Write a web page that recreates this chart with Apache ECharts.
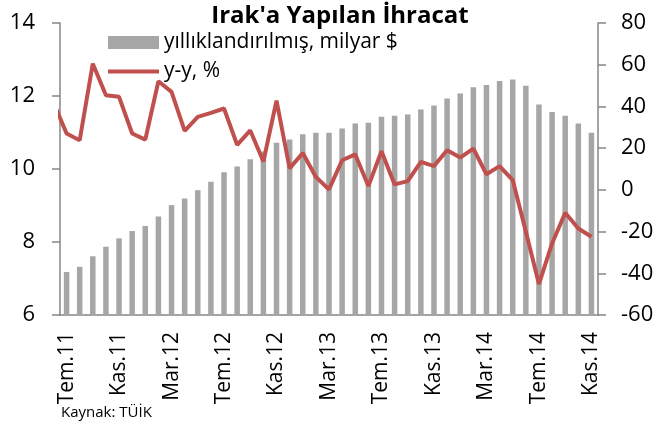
<!DOCTYPE html>
<html>
<head>
<meta charset="utf-8">
<script src="https://cdn.jsdelivr.net/npm/echarts@6/dist/echarts.min.js"></script>
<style>
  html, body { margin: 0; padding: 0; background: #fff; }
  #chart { width: 658px; height: 432px; }
</style>
</head>
<body>
<div id="chart"></div>
<script>
// veri ==========================================
const monthNames = ['Oca', 'Şub', 'Mar', 'Nis', 'May', 'Haz', 'Tem', 'Ağu', 'Eyl', 'Eki', 'Kas', 'Ara'];

// Tem.11 .. Kas.14, aylık
const categories = [];
for (let i = 0; i < 41; i++) {
    const m = (6 + i) % 12;
    const y = 11 + Math.floor((6 + i) / 12);
    categories.push(monthNames[m] + '.' + y);
}

// yıllıklandırılmış ihracat, milyar $
const annualised = [
    7.18, 7.32, 7.61, 7.87, 8.10, 8.30, 8.44, 8.70, 9.01, 9.19,
    9.42, 9.65, 9.91, 10.07, 10.27, 10.48, 10.72, 10.81, 10.95, 10.99,
    10.99, 11.11, 11.25, 11.27, 11.43, 11.46, 11.49, 11.63, 11.74, 11.93,
    12.07, 12.24, 12.30, 12.41, 12.45, 12.28, 11.77, 11.56, 11.46, 11.25,
    10.99
];

// y-y değişim, % (ilk değer Haz.11, grafikte kesiliyor)
const yoy = [
    42,
    27.0, 23.8, 60.5, 45.4, 44.6, 27.0, 24.1, 52.1, 47.0, 28.3,
    35.0, 36.9, 39.0, 21.6, 28.5, 13.6, 42.8, 10.3, 17.7, 6.2,
    0.2, 14.2, 17.0, 1.8, 18.5, 2.6, 4.2, 13.4, 11.4, 19.0,
    15.5, 19.8, 7.5, 11.4, 4.7, -20.0, -45.2, -25.7, -11.0, -18.5,
    -22.5
];

const leftTicks = { min: 6, max: 14, interval: 2 };
const rightTicks = { min: -60, max: 80, interval: 20 };

// grafik ==========================================
const FONT = 'Open Sans';
const axisGray = '#868686';
const red = '#c0504d';

const chart = echarts.init(document.getElementById('chart'));

const option = {
    animation: false,
    textStyle: { fontFamily: FONT, color: '#000' },
    title: [
        {
            text: "Irak'a Yapılan İhracat",
            left: 340,
            textAlign: 'center',
            top: 4,
            padding: 0,
            textStyle: { fontFamily: FONT, fontSize: 24, fontWeight: 'bold', color: '#000' }
        },
        {
            text: 'Kaynak: TÜİK',
            left: 61,
            top: 405,
            padding: 0,
            textStyle: { fontFamily: FONT, fontSize: 15, fontWeight: 'normal', color: '#000' }
        }
    ],
    legend: {
        orient: 'vertical',
        left: 108,
        top: 32,
        itemWidth: 51,
        itemHeight: 13,
        itemGap: 8,
        padding: 0,
        textStyle: { fontFamily: FONT, fontSize: 21, color: '#000', lineHeight: 21 },
        data: [
            { name: 'yıllıklandırılmış, milyar $', icon: 'rect' },
            { name: 'y-y, %', icon: 'path://M0,0L51,0L51,4L0,4Z', symbolKeepAspect: true }
        ]
    },
    grid: { left: 60, right: 60, top: 23, bottom: 117 },
    xAxis: [
        {
            type: 'category',
            data: categories,
            boundaryGap: true,
            axisLine: { onZero: false, lineStyle: { color: axisGray, width: 1.5 } },
            axisTick: { interval: 3, length: 8, lineStyle: { color: axisGray, width: 1.5 } },
            axisLabel: {
                interval: 3,
                rotate: 90,
                margin: 17,
                fontFamily: FONT,
                fontSize: 21,
                color: '#000'
            }
        },
        {
            type: 'value',
            min: -0.5,
            max: categories.length - 0.5,
            show: false,
            position: 'top',
            axisLine: { show: false, onZero: false },
            axisTick: { show: false },
            axisLabel: { show: false },
            splitLine: { show: false }
        }
    ],
    yAxis: [
        {
            type: 'value',
            min: leftTicks.min,
            max: leftTicks.max,
            interval: leftTicks.interval,
            axisLine: { show: true, onZero: false, lineStyle: { color: axisGray, width: 1.5 } },
            axisTick: { show: true, length: 8, lineStyle: { color: axisGray, width: 1.5 } },
            splitLine: { show: false },
            axisLabel: { margin: 25, fontFamily: FONT, fontSize: 22, color: '#000' }
        },
        {
            type: 'value',
            min: rightTicks.min,
            max: rightTicks.max,
            interval: rightTicks.interval,
            position: 'right',
            axisLine: { show: true, onZero: false, lineStyle: { color: axisGray, width: 1.5 } },
            axisTick: { show: true, length: 8, lineStyle: { color: axisGray, width: 1.5 } },
            splitLine: { show: false },
            axisLabel: { margin: 23, fontFamily: FONT, fontSize: 22, color: '#000' }
        }
    ],
    series: [
        {
            name: 'yıllıklandırılmış, milyar $',
            type: 'bar',
            xAxisIndex: 0,
            yAxisIndex: 0,
            data: annualised,
            barWidth: 5.5,
            itemStyle: { color: '#a6a6a6' }
        },
        {
            name: 'y-y, %',
            type: 'line',
            xAxisIndex: 1,
            yAxisIndex: 1,
            data: yoy.map((v, i) => [i - 1, v]),
            symbol: 'none',
            clip: true,
            lineStyle: { color: red, width: 4 },
            itemStyle: { color: red },
            z: 3
        }
    ]
};

chart.setOption(option);
window.addEventListener('resize', () => chart.resize());
</script>
</body>
</html>
